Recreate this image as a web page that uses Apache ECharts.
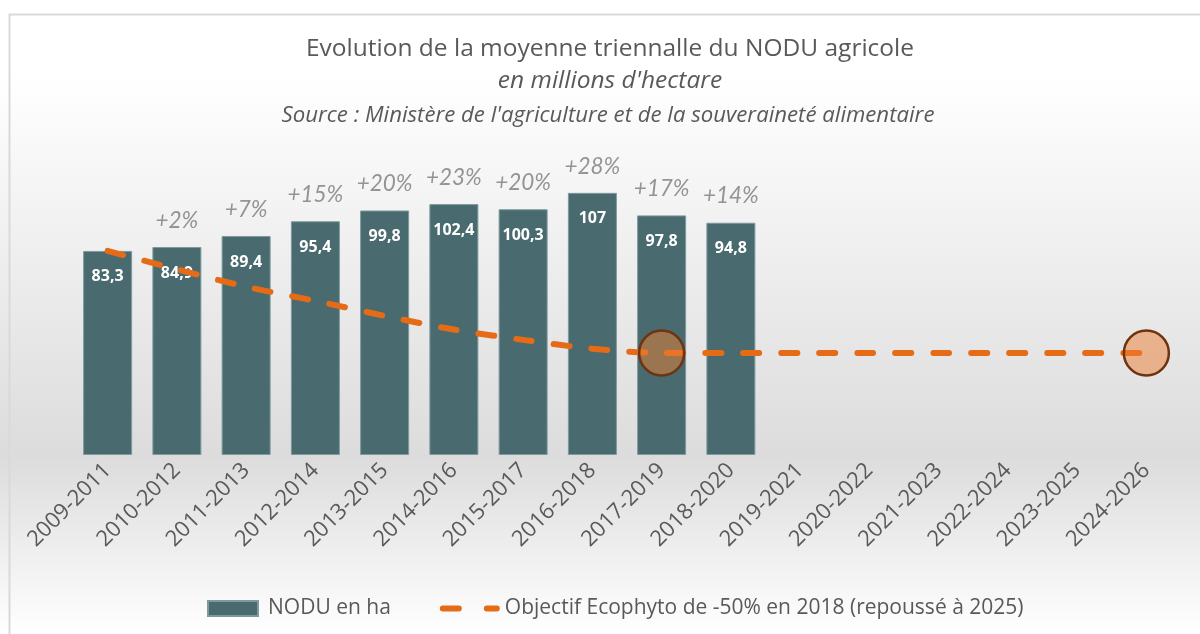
<!DOCTYPE html>
<html>
<head>
<meta charset="utf-8">
<script src="https://cdn.jsdelivr.net/npm/echarts@6/dist/echarts.min.js"></script>
<style>
html,body{margin:0;padding:0;background:#fff;}
#chart{width:1200px;height:634px;}
</style>
</head>
<body>
<div id="chart"></div>
<script>
const categories = ["2009-2011","2010-2012","2011-2013","2012-2014","2013-2015","2014-2016","2015-2017","2016-2018","2017-2019","2018-2020","2019-2021","2020-2022","2021-2023","2022-2024","2023-2025","2024-2026"];
const noduValues = [83.3, 84.9, 89.4, 95.4, 99.8, 102.4, 100.3, 107, 97.8, 94.8];
const changeLabels = ["", "+2%", "+7%", "+15%", "+20%", "+23%", "+20%", "+28%", "+17%", "+14%"];
const objectiveValues = [83.3, 75.8, 68.7, 62.9, 56.8, 51.2, 47.0, 43.4, 41.65, 41.65, 41.65, 41.65, 41.65, 41.65, 41.65, 41.65];
const objectiveMarkers = [null, null, null, null, null, null, null, null, 41.65, null, null, null, null, null, null, 41.65];

const FONT = 'Open Sans';
const chart = echarts.init(document.getElementById('chart'));
const option = {
  animation: false,
  backgroundColor: new echarts.graphic.LinearGradient(0, 0, 0, 1, [
    {offset: 0, color: '#ffffff'},
    {offset: 0.12, color: '#ffffff'},
    {offset: 0.72, color: '#dcdcdc'},
    {offset: 1, color: '#ffffff'}
  ]),
  textStyle: {fontFamily: FONT},
  graphic: [{
    type: 'rect', left: 7, top: 12, silent: true, z: -1,
    shape: {width: 1210, height: 640},
    style: {fill: 'none', stroke: '#d9d9d9', lineWidth: 2}
  }],
  title: [
    {text: 'Evolution de la moyenne triennalle du NODU agricole', left: 605, textAlign: 'center', top: 32,
     textStyle: {fontFamily: FONT, fontSize: 24.5, fontWeight: 'normal', color: '#595959'}},
    {text: "en millions d'hectare", left: 605, textAlign: 'center', top: 64,
     textStyle: {fontFamily: FONT, fontSize: 24.5, fontWeight: 'normal', fontStyle: 'italic', color: '#595959'}},
    {text: "Source : Ministère de l'agriculture et de la souveraineté alimentaire", left: 603, textAlign: 'center', top: 100,
     textStyle: {fontFamily: FONT, fontSize: 22.2, fontWeight: 'normal', fontStyle: 'italic', color: '#595959'}}
  ],
  legend: {
    left: 202, top: 593,
    itemWidth: 60, itemHeight: 15, itemGap: 49,
    textStyle: {fontFamily: FONT, fontSize: 21, color: '#595959'},
    data: [
      {name: 'NODU en ha', icon: 'path://M0,0 L50,0 L50,15 L0,15 Z'},
      {name: 'Objectif Ecophyto de -50% en 2018 (repoussé à 2025)',
       icon: 'path://M3,0 L19,0 A3,3 0 0 1 19,6 L3,6 A3,3 0 0 1 3,0 Z M47,0 L57,0 A3,3 0 0 1 57,6 L47,6 A3,3 0 0 1 47,0 Z',
       itemStyle: {color: '#E66B17'}}
    ]
  },
  grid: {left: 73, right: 19, top: 161, bottom: 179},
  xAxis: {
    type: 'category',
    data: categories,
    boundaryGap: true,
    axisLine: {show: false},
    axisTick: {show: false},
    axisLabel: {rotate: 45, fontFamily: FONT, fontSize: 22, color: '#595959', margin: 12, interval: 0}
  },
  yAxis: {type: 'value', min: 0, max: 120, show: false, splitLine: {show: false}},
  series: [
    {
      name: 'NODU en ha',
      type: 'bar',
      data: noduValues,
      barWidth: 49,
      itemStyle: {color: '#496A6E', borderColor: '#7E9A9C', borderWidth: 1},
      label: {
        show: true, position: 'insideTop', distance: 18,
        color: '#ffffff', fontFamily: FONT, fontSize: 16, fontWeight: 'bold',
        formatter: p => String(p.value).replace('.', ',')
      },
      z: 2
    },
    {
      name: 'pct',
      type: 'scatter',
      data: noduValues,
      symbolSize: 0,
      silent: true,
      label: {
        show: true, position: 'top', distance: 15,
        color: '#7a7a7a', fontFamily: 'Lato', fontSize: 22.5, fontStyle: 'italic',
        formatter: p => changeLabels[p.dataIndex]
      },
      z: 3
    },
    {
      name: 'Objectif Ecophyto de -50% en 2018 (repoussé à 2025)',
      type: 'line',
      data: objectiveValues,
      smooth: 0.3,
      symbol: 'none',
      itemStyle: {color: '#E66B17'},
      lineStyle: {color: '#E66B17', width: 6, type: [16, 22], cap: 'round'},
      z: 4
    },
    {
      name: 'markers',
      type: 'scatter',
      data: objectiveMarkers,
      symbol: 'circle',
      symbolSize: 45,
      silent: true,
      itemStyle: {color: 'rgba(237,125,49,0.5)', borderColor: '#6E3310', borderWidth: 2.5, opacity: 1},
      z: 5
    }
  ]
};
chart.setOption(option);
</script>
</body>
</html>
